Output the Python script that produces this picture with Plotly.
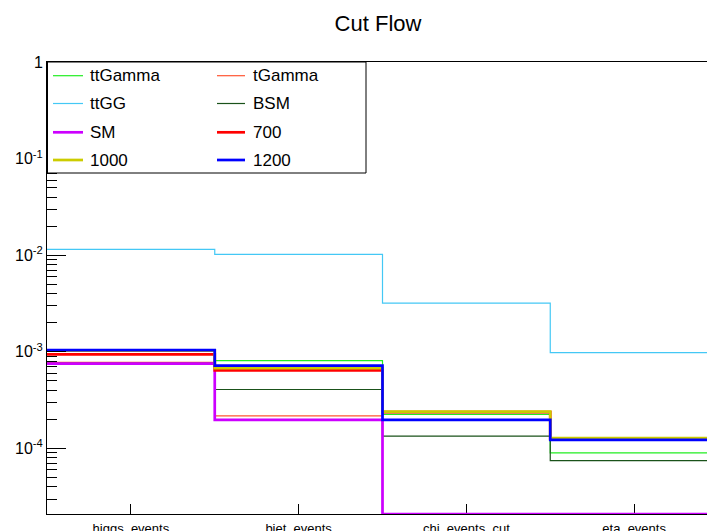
import math
import plotly.graph_objects as go

# ---- data ----
categories = ["higgs_events", "bjet_events", "chi_events_cut", "eta_events"]
series_names = ["ttGamma", "tGamma", "ttGG", "BSM", "SM", "700", "1000", "1200"]
ttGamma = [7.7e-4, 8.1e-4, 2.25e-4, 9.0e-5]
tGamma = [7.8e-4, 2.18e-4, 0.0, 0.0]
ttGG = [1.15e-2, 1.02e-2, 3.19e-3, 9.8e-4]
BSM = [7.6e-4, 4.08e-4, 1.34e-4, 7.5e-5]
SM = [7.55e-4, 1.98e-4, 0.0, 0.0]
m700 = [9.4e-4, 6.43e-4, 2.38e-4, 1.26e-4]
m1000 = [1.03e-3, 6.8e-4, 2.41e-4, 1.28e-4]
m1200 = [1.04e-3, 7.2e-4, 1.98e-4, 1.23e-4]
series_values = [ttGamma, tGamma, ttGG, BSM, SM, m700, m1000, m1200]
major_tick_vals = [1e-4, 1e-3, 1e-2, 1e-1, 1]
major_tick_text = ["10<sup>-4</sup>", "10<sup>-3</sup>", "10<sup>-2</sup>", "10<sup>-1</sup>", "1"]

# ---- styles ----
colors = ["#22ee22", "#ff5533", "#44c8f5", "#1a521a", "#cc00ff", "#ff0000", "#cccc00", "#0000ff"]
widths = [1.2, 1.2, 1.2, 1.2, 2.7, 2.7, 2.7, 2.7]

W, H = 707, 531
ML, MR, MT, MB = 47, 0, 62, 17
PW, PH = W - ML - MR, H - MT - MB
YLOG = [-4.678, 0.0]
ymin = 10 ** YLOG[0]
XR = [0, PW / 167.75]

fig = go.Figure()
edges = list(range(len(categories) + 1))
for name, vals, c, w in zip(series_names, series_values, colors, widths):
    shown = [max(v, ymin) for v in vals]
    fig.add_trace(go.Scatter(
        x=edges, y=shown + [shown[-1]], mode="lines", line_shape="hv",
        line=dict(color=c, width=w), name=name, showlegend=False,
    ))

minor_vals = [m * 10 ** k for k in range(-5, 0) for m in range(2, 10)]

fig.update_layout(
    width=W, height=H,
    margin=dict(l=ML, r=MR, t=MT, b=MB, pad=0, autoexpand=False),
    paper_bgcolor="white", plot_bgcolor="white",
    font=dict(family="Liberation Sans, Arial, sans-serif", color="black"),
    title=dict(text="Cut Flow", x=378 / W, xanchor="center", y=1 - 23 / H, yanchor="middle",
               font=dict(size=22, color="black")),
    showlegend=False,
)
fig.update_xaxes(
    range=XR, showgrid=False, zeroline=False, automargin=False,
    showline=True, linecolor="black", linewidth=1, mirror=True,
    tickmode="array", tickvals=[i + 0.5 for i in range(len(categories))], ticktext=categories,
    ticks="inside", ticklen=10, tickcolor="black", tickwidth=1,
    tickfont=dict(size=13), ticklabelstandoff=2, layer="below traces",
)
fig.update_yaxes(
    type="log", range=YLOG, showgrid=False, zeroline=False, automargin=False,
    showline=True, linecolor="black", linewidth=1, mirror=False,
    tickmode="array", tickvals=major_tick_vals, ticktext=major_tick_text,
    ticks="inside", ticklen=19, tickcolor="black", tickwidth=1,
    tickfont=dict(size=16),
    minor=dict(tickmode="array", tickvals=minor_vals, ticks="inside", ticklen=10,
               tickcolor="black", tickwidth=1, showgrid=False),
)

# ---- legend box (manual, 2 columns) ----
def px(x):
    return (x - ML) / PW

def py(y):
    return (H - MB - y) / PH

fig.add_shape(type="rect", xref="paper", yref="paper", x0=px(47.5), x1=px(366), y0=py(173), y1=py(62),
              line=dict(color="black", width=1), fillcolor="white", layer="above")
col_line = [(53, 83, 88), (217, 245, 251)]
row_y = [75.7, 103.5, 132.3, 160]
for i, (name, c, w) in enumerate(zip(series_names, colors, widths)):
    r, col = divmod(i, 2)
    x0, x1, xt = col_line[col]
    yy = row_y[r]
    fig.add_shape(type="line", xref="paper", yref="paper", x0=px(x0), x1=px(x1), y0=py(yy), y1=py(yy),
                  line=dict(color=c, width=w), layer="above")
    fig.add_annotation(xref="paper", yref="paper", x=px(xt), y=py(yy), text=name, showarrow=False,
                       xanchor="left", yanchor="middle", font=dict(size=17, color="black"))

fig.write_html(
    "out.html",
    config={"displayModeBar": False},
    post_script="document.body.style.margin='0';document.body.style.padding='0';"
                "document.documentElement.style.overflow='hidden';",
)
